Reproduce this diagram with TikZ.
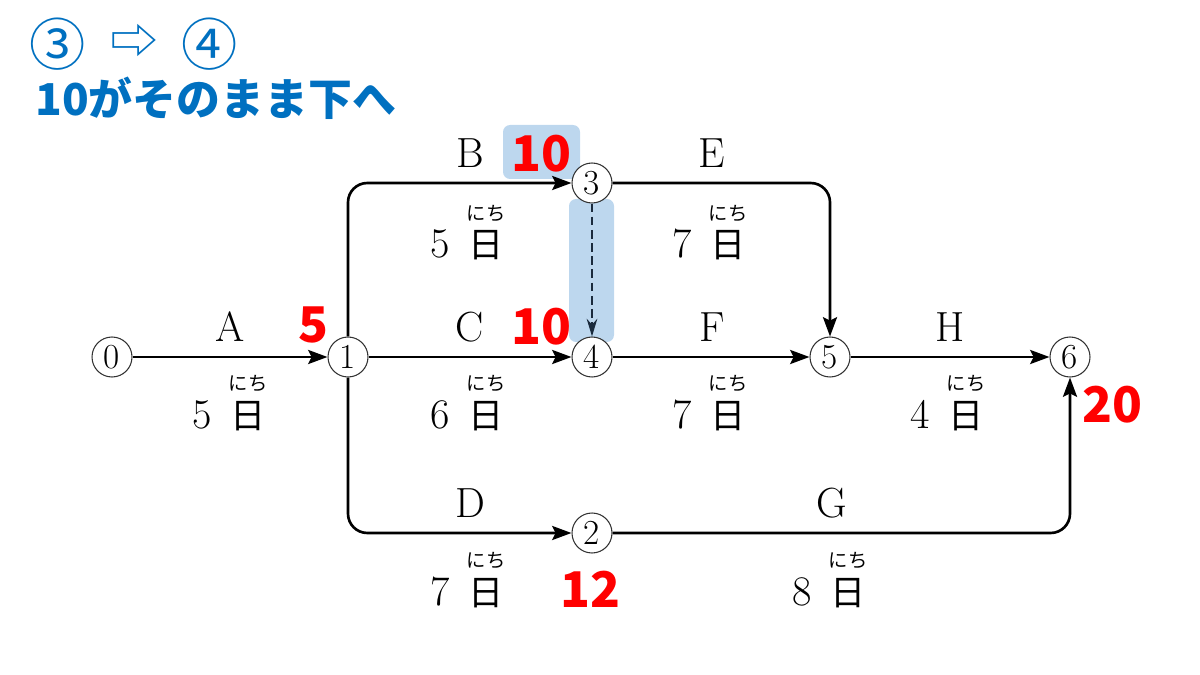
\documentclass[tikz,border=0pt]{standalone}
\usepackage{fontspec}
\newfontfamily\jpfont{Noto Sans CJK JP}
\usetikzlibrary{arrows.meta,positioning}
\definecolor{ttlblue}{HTML}{0070C0}
\definecolor{hlblue}{HTML}{BDD7EE}
\definecolor{dashblue}{HTML}{1B2B3D}
\newcommand{\days}[1]{#1\hspace{0.4em}\shortstack{\jpfont\fontsize{11}{11}\selectfont にち\\[2pt]\jpfont\fontsize{20}{20}\selectfont 日}}

\begin{document}
\begin{tikzpicture}[x=0.02cm,y=-0.02cm,>=Stealth,
 ev/.style={circle,draw=black!80,line width=0.6pt,minimum size=0.8cm,inner sep=0pt,fill=white,font=\fontsize{20}{20}\selectfont},
 act/.style={line width=1.5pt,-{Stealth[length=11pt,width=8pt,inset=2pt]},rounded corners=11pt},
 lbl/.style={anchor=base,font=\fontsize{24}{24}\selectfont},
 dur/.style={anchor=base,font=\fontsize{24}{24}\selectfont},
 num/.style={anchor=base,text=red,font=\jpfont\bfseries\fontsize{28}{28}\selectfont},
 ttl/.style={anchor=base west,inner sep=0pt,text=ttlblue,font=\jpfont\bfseries\fontsize{25}{25}\selectfont}]
\useasboundingbox (0,0) rectangle (1200,675);
% highlights
\fill[hlblue,rounded corners=4pt] (503,125) rectangle (580,179);
\fill[hlblue,rounded corners=4pt] (569,199) rectangle (614,342);
% title
\node[ttl,font=\jpfont\fontsize{32}{32}\selectfont] (t1) at (29,66) {③\hspace{14pt}{\fontsize{27}{27}\selectfont\raisebox{4pt}{⇨}}\hspace{13.5pt}④};
\node[ttl] (t2) at (35,116) {10がそのまま下へ};
% events
\node[ev] (n0) at (112,357) {0};
\node[ev] (n1) at (348,357) {1};
\node[ev] (n2) at (592,533) {2};
\node[ev] (n3) at (592,183) {3};
\node[ev] (n4) at (592,357) {4};
\node[ev] (n5) at (830,357) {5};
\node[ev] (n6) at (1070,357) {6};
% activities
\draw[act] (n0) -- (n1);
\draw[act] (n1) |- (n3);
\draw[act] (n1) -- (n4);
\draw[act] (n1) |- (n2);
\draw[act] (n3) -| (n5);
\draw[act] (n4) -- (n5);
\draw[act] (n5) -- (n6);
\draw[act] (n2) -| (n6);
\draw[dashblue,line width=1.4pt,dash pattern=on 5pt off 2.5pt,-{Stealth[length=10pt,width=6pt]}] (n3) -- (n4);
% letters
\node[lbl] (la) at (230,342) {A};
\node[lbl] (lb) at (470,168) {B};
\node[lbl] (lc) at (470,342) {C};
\node[lbl] (ld) at (470,517) {D};
\node[lbl] (le) at (712,168) {E};
\node[lbl] (lf) at (712,342) {F};
\node[lbl] (lg) at (832,517) {G};
\node[lbl] (lh) at (950,342) {H};
% durations
\node[dur] (da) at (230,428) {\days{5}};
\node[dur] (db) at (468,258) {\days{5}};
\node[dur] (dc) at (468,428) {\days{6}};
\node[dur] (dd) at (468,605) {\days{7}};
\node[dur] (de) at (710,258) {\days{7}};
\node[dur] (df) at (710,428) {\days{7}};
\node[dur] (dg) at (830,605) {\days{8}};
\node[dur] (dh) at (948,428) {\days{4}};
% earliest times
\node[num] (ea) at (313,343) {5};
\node[num] (eb) at (541,172) {10};
\node[num] (ec) at (541,345) {10};
\node[num] (ed) at (590,607) {12};
\node[num] (eh) at (1112,422) {20};
\end{tikzpicture}
\end{document}
